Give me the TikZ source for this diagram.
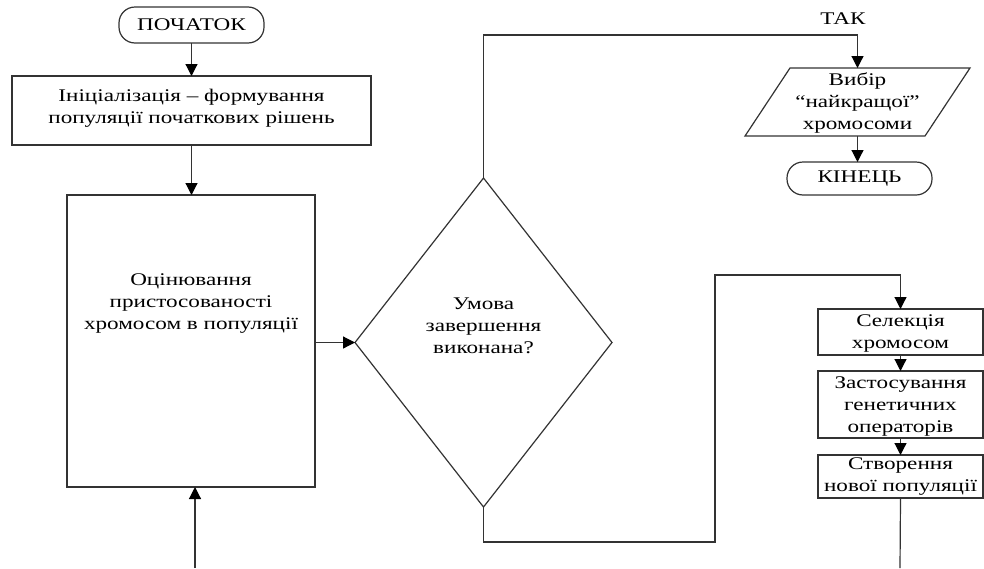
\documentclass[tikz,border=0pt]{standalone}
\usepackage{fontspec}
\setmainfont[FakeStretch=1.3]{Liberation Serif}
\usetikzlibrary{shapes.geometric,arrows.meta,calc}
\begin{document}
\begin{tikzpicture}[x=1pt,y=-1pt,
  ln/.style={draw=black!80,line width=1.2pt},
  arr/.style={ln,-{Triangle[length=12pt,width=12pt,color=black]}},
  txt/.style={font=\fontsize{17.8}{22}\selectfont,align=center,inner sep=0pt,text=black},
  boxx/.style={ln,rectangle,inner sep=0pt,outer sep=0pt,fill=white},
  term/.style={ln,rectangle,rounded corners=16pt,inner sep=0pt,outer sep=0pt,fill=white,font=\fontsize{17.8}{22}\selectfont}
]
\useasboundingbox (0,0) rectangle (984,568);
\fill[white] (0,0) rectangle (984,568);

% left column
\node[term,minimum width=145pt,minimum height=36pt] (start) at (191.5,25) {ПОЧАТОК};
\node[boxx,minimum width=359pt,minimum height=69pt] (init) at (191.5,110.5) {};
\node[txt] (initt) at (191.5,108) {Ініціалізація – формування\\популяції початкових рішень};
\node[boxx,minimum width=248pt,minimum height=292pt] (eval) at (191,341) {};
\node[txt] (evalt) at (191,304) {Оцінювання\\пристосованості\\хромосом в популяції};

% decision
\node[ln,diamond,inner sep=0pt,outer sep=0pt,minimum width=257pt,minimum height=329pt] (dia) at (483.5,342.5) {};
\node[txt] (diat) at (483.5,326) {Умова\\завершення\\виконана?};

% yes branch
\node[txt] (yes) at (843,19) {ТАК};
\node[inner sep=0pt,outer sep=0pt,minimum width=180pt,minimum height=68pt] (best) at (857.5,102) {};
\draw[ln] ([xshift=22.5pt]best.north west) -- ([xshift=22.5pt]best.north east)
  -- ([xshift=-22.5pt]best.south east) -- ([xshift=-22.5pt]best.south west) -- cycle;
\node[txt] (bestt) at (857.5,103) {Вибір\\“найкращої”\\хромосоми};
\node[term,minimum width=145pt,minimum height=33pt] (end) at (859.5,178.5) {КІНЕЦЬ};

% right column
\node[boxx,minimum width=165pt,minimum height=46pt] (s1) at (900.5,332) {};
\node[txt] (s1t) at (900.5,333) {Селекція\\хромосом};
\node[boxx,minimum width=165pt,minimum height=67pt] (s2) at (900.5,404.5) {};
\node[txt] (s2t) at (900.5,406) {Застосування\\генетичних\\операторів};
\node[boxx,minimum width=165pt,minimum height=43pt] (s3) at (900.5,476.5) {};
\node[txt] (s3t) at (900.5,477) {Створення\\нової популяції};

% coordinates
\coordinate (top) at (0,35);
\coordinate (bot) at (715,542);
\coordinate (up) at (715,275);
\coordinate (s3end) at (900,568);
\coordinate (evin) at (195,568);

% connectors
\draw[arr] (start.south) -- (init.north);
\draw[arr] (init.south) -- (init.south |- eval.north);
\draw[arr] (eval.east |- dia.west) -- (dia.west);
\draw[arr] (dia.north) -- (dia.north |- top) -| (best.north);
\draw[arr] (best.south) -- (best.south |- end.north);
\draw[arr] (dia.south) |- (bot) -- (up) -| (s1.north);
\draw[arr] (s1.south) -- (s2.north);
\draw[arr] (s2.south) -- (s3.north);
\draw[ln] (s3.south) -- (s3end);
\draw[arr] (evin) -- (evin |- eval.south);
\end{tikzpicture}
\end{document}
